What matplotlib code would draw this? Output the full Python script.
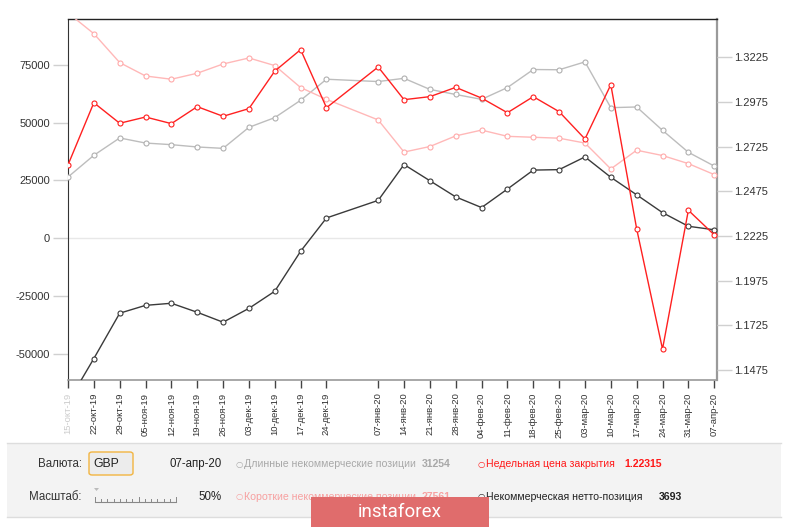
import matplotlib
matplotlib.use("Agg")
import matplotlib.pyplot as plt
import matplotlib.dates as mdates
from matplotlib.patches import Rectangle, FancyBboxPatch
from matplotlib.lines import Line2D
import numpy as np
import datetime as dt

plt.rcParams['font.family'] = ['Liberation Sans', 'DejaVu Sans']

dates = ["2019-10-15", "2019-10-22", "2019-10-29", "2019-11-05", "2019-11-12", "2019-11-19",
         "2019-11-26", "2019-12-03", "2019-12-10", "2019-12-17", "2019-12-24", "2020-01-07",
         "2020-01-14", "2020-01-21", "2020-01-28", "2020-02-04", "2020-02-11", "2020-02-18",
         "2020-02-25", "2020-03-03", "2020-03-10", "2020-03-17", "2020-03-24", "2020-03-31",
         "2020-04-07"]
tick_labels = ["15-окт-19", "22-окт-19", "29-окт-19", "05-ноя-19", "12-ноя-19", "19-ноя-19",
               "26-ноя-19", "03-дек-19", "10-дек-19", "17-дек-19", "24-дек-19", "07-янв-20",
               "14-янв-20", "21-янв-20", "28-янв-20", "04-фев-20", "11-фев-20", "18-фев-20",
               "25-фев-20", "03-мар-20", "10-мар-20", "17-мар-20", "24-мар-20", "31-мар-20",
               "07-апр-20"]
long_pos = [26500, 35900, 43400, 41200, 40500, 39500, 38900, 48000, 52200, 59700, 68800, 67800,
            69200, 64400, 62200, 60100, 65200, 73000, 72900, 76300, 56500, 56800, 46700, 37200,
            31254]
short_pos = [97500, 88500, 76000, 70200, 68800, 71400, 75400, 78000, 74700, 65200, 60100, 51200,
             37300, 39700, 44300, 46800, 44100, 43700, 43300, 41200, 30000, 38100, 35800, 32300,
             27561]
net_pos = [-71000, -52000, -32400, -29000, -28100, -32000, -36300, -30300, -22900, -5600, 8800,
           16400, 31900, 24900, 17900, 13300, 21300, 29500, 29700, 35200, 26400, 18800, 11100,
           5200, 3693]
close_px = [1.2623, 1.2971, 1.2856, 1.2891, 1.2854, 1.2949, 1.2895, 1.2938, 1.3148, 1.3268,
            1.2943, 1.3171, 1.2988, 1.3005, 1.3057, 1.2997, 1.2915, 1.3005, 1.2921, 1.2768,
            1.3072, 1.2265, 1.1592, 1.2369, 1.22315]
left_ticks = [-50000, -25000, 0, 25000, 50000, 75000]
right_ticks = [1.1475, 1.1725, 1.1975, 1.2225, 1.2475, 1.2725, 1.2975, 1.3225]

W, H = 800, 529
fig = plt.figure(figsize=(W / 100, H / 100), dpi=100)
fig.patch.set_facecolor('white')

def fx(x):
    return x / W

def fy(y):
    return 1 - y / H

L, R, T, B = 68, 716.5, 19.3, 380
ax = fig.add_axes([fx(L), fy(B), (R - L) / W, (B - T) / H])
ax2 = ax.twinx()

x = [mdates.date2num(dt.datetime.strptime(d, "%Y-%m-%d")) for d in dates]

mk = dict(marker='o', markersize=3.6, markerfacecolor='white', markeredgewidth=0.8)
ax.plot(x, net_pos, color='#3a3a3a', lw=1.0, markeredgecolor='#3a3a3a', zorder=4, **mk)
ax.plot(x, long_pos, color='#bdbdbd', lw=1.0, markeredgecolor='#b0b0b0', zorder=3, **mk)
ax.plot(x, short_pos, color='#ffb8b8', lw=1.0, markeredgecolor='#ffaaaa', zorder=3, **mk)
ax2.plot(x, close_px, color='#ff2020', lw=1.0, markeredgecolor='#ff2020', zorder=5, **mk)

ax.axhline(0, color='#e8e8e8', lw=1.0, zorder=1)

ax.set_xlim(x[0] + 0.53, x[-1] + 0.62)
ax.set_ylim(-61290, 94723)
ax2.set_ylim(1.14190, 1.34379)

ax.set_yticks(left_ticks)
ax.set_yticklabels([str(v) for v in left_ticks])
ax2.set_yticks(right_ticks)
ax2.set_yticklabels([f"{v:.4f}" for v in right_ticks])
ax.tick_params(axis='y', length=11, width=1, color='#d0d0d0', labelsize=8, labelcolor='#333333', pad=2)
ax2.tick_params(axis='y', length=11, width=1, color='#d0d0d0', labelsize=8, labelcolor='#333333', pad=2)

ax.set_xticks(x)
ax.set_xticklabels(tick_labels, rotation=90, fontsize=6.8, color='#333333')
ax.get_xticklabels()[0].set_color('#cccccc')
ax.tick_params(axis='x', length=6, width=1, color='#444444', pad=3)
ax2.set_xlim(ax.get_xlim())

for sp in ('top', 'left', 'right', 'bottom'):
    ax2.spines[sp].set_visible(False)
ax.spines['top'].set_color('#222222')
ax.spines['left'].set_color('#333333')
ax.spines['right'].set_color('#9a9a9a')
ax.spines['right'].set_linewidth(1.6)
ax.spines['bottom'].set_color('#9a9a9a')
ax.spines['bottom'].set_linewidth(1.2)
ax.spines['top'].set_linewidth(1.0)
ax.set_facecolor('none')

# bottom panel
fig.patches.append(Rectangle((fx(7), fy(517)), (781 - 7) / W, (517 - 443) / H,
                             transform=fig.transFigure, facecolor='#f3f3f3', edgecolor='none', zorder=0))
for yy in (443, 517):
    fig.add_artist(Line2D([fx(7), fx(781)], [fy(yy), fy(yy)], color='#dddddd', lw=1))

row1, row2 = 464, 497
fs = 8.3
fig.text(fx(82), fy(row1), "Валюта:", ha='right', va='center', fontsize=fs, color='#333333')
fig.text(fx(82), fy(row2), "Масштаб:", ha='right', va='center', fontsize=fs, color='#333333')

fig.patches.append(FancyBboxPatch((fx(89), fy(475)), (133 - 89) / W, (475 - 452) / H,
                                  boxstyle="round,pad=0,rounding_size=0.004",
                                  transform=fig.transFigure, facecolor='#ececec',
                                  edgecolor='#f2b440', lw=1.0, zorder=2))
fig.text(fx(93), fy(row1), "GBP", ha='left', va='center', fontsize=8.8, color='#222222')
fig.add_artist(Line2D([fx(121), fx(124), fx(127)], [fy(463), fy(466), fy(463)], color='#555555', lw=0.8))

fig.text(fx(222), fy(row1), "07-апр-20", ha='right', va='center', fontsize=fs, color='#222222')
fig.text(fx(222), fy(row2), "50%", ha='right', va='center', fontsize=fs, color='#222222')

# scale slider
fig.add_artist(Line2D([fx(95), fx(176)], [fy(502), fy(502)], color='#888888', lw=0.8))
for i in range(14):
    xx = 95 + i * (176 - 95) / 13
    h = 5 if i in (0, 7, 13) else 3
    fig.add_artist(Line2D([fx(xx), fx(xx)], [fy(502), fy(502 - h)], color='#888888', lw=0.7))
fig.add_artist(plt.Polygon([[fx(94), fy(488)], [fx(99), fy(488)], [fx(96.5), fy(491)]],
                           closed=True, transform=fig.transFigure, facecolor='#bbbbbb', edgecolor='none'))

# legend entries
lfs = 7.6
def entry(xp, yp, label, value, color, valx):
    fig.text(fx(xp), fy(yp), "○", ha='left', va='center', fontsize=6.0, color=color,
             family=['DejaVu Sans'])
    fig.text(fx(xp + 8), fy(yp), label, ha='left', va='center', fontsize=lfs, color=color)
    fig.text(fx(valx), fy(yp), value, ha='left', va='center', fontsize=lfs, color=color,
             fontweight='bold')

entry(236, row1, "Длинные некоммерческие позиции", "31254", '#a8a8a8', 422)
entry(236, row2, "Короткие некоммерческие позиции", "27561", '#f7a0a0', 422)
entry(478, row1, "Недельная цена закрытия", "1.22315", '#ff1a1a', 624)
entry(478, row2, "Некоммерческая нетто-позиция", "3693", '#222222', 659)

# banner
fig.patches.append(Rectangle((fx(311), fy(527)), (489 - 311) / W, (527 - 497) / H,
                             transform=fig.transFigure, facecolor='#e06c6c', edgecolor='none', zorder=5))
fig.text(fx(400), fy(512), "instaforex", ha='center', va='center', fontsize=13.5, color='white',
         family=['Roboto', 'DejaVu Sans'], zorder=6)

fig.savefig("out.png", dpi=100)
